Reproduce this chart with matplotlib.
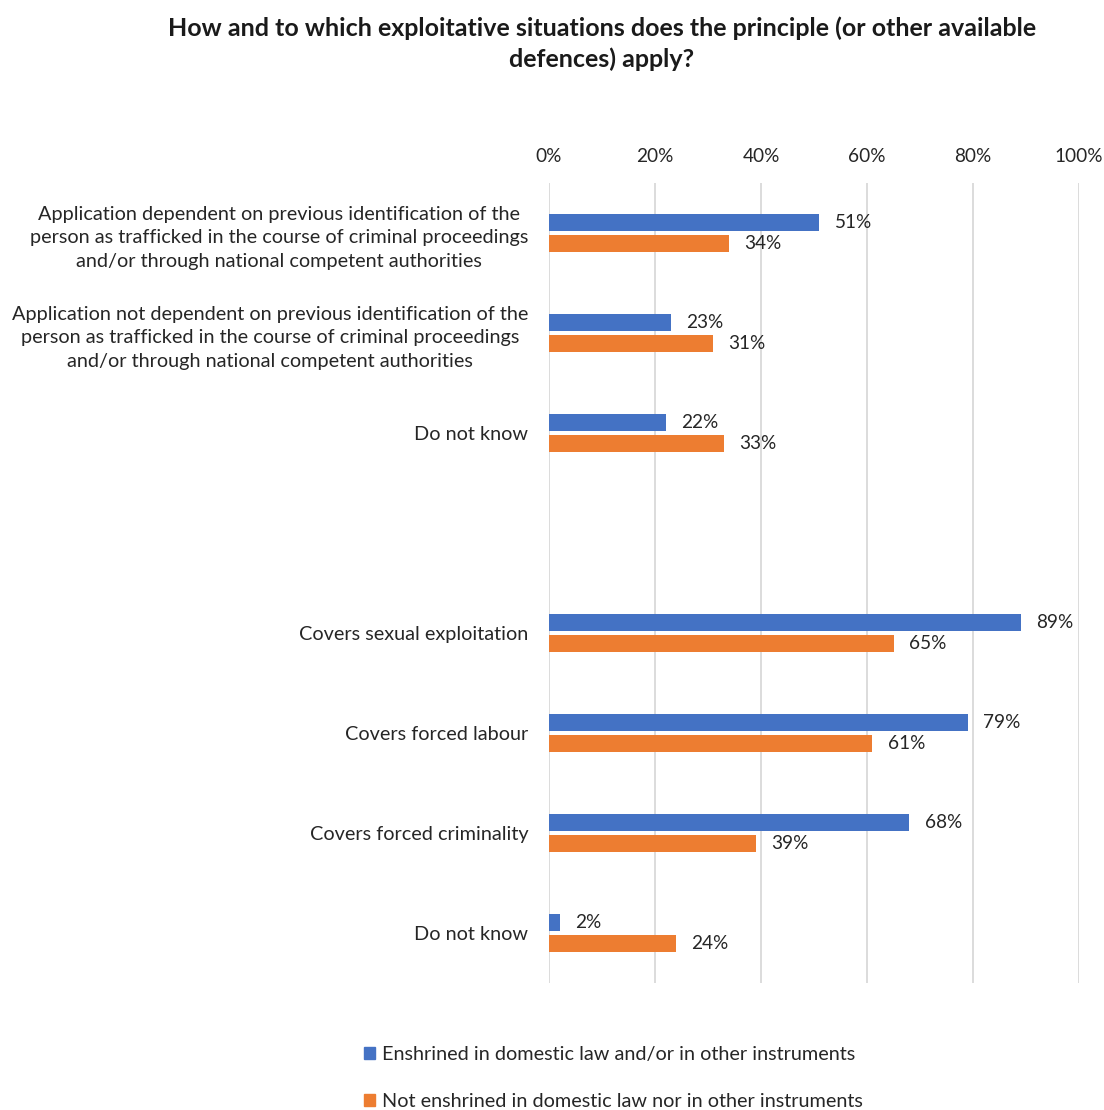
import matplotlib
matplotlib.use("Agg")
import matplotlib.pyplot as plt
from matplotlib.patches import Patch
import numpy as np

plt.rcParams['font.family'] = ['Lato', 'DejaVu Sans']

title = "How and to which exploitative situations does the principle (or other available\ndefences) apply?"

categories = [
    "Application dependent on previous identification of the\nperson as trafficked in the course of criminal proceedings\nand/or through national competent authorities",
    "Application not dependent on previous identification of the\nperson as trafficked in the course of criminal proceedings\nand/or through national competent authorities",
    "Do not know",
    "",
    "Covers sexual exploitation",
    "Covers forced labour",
    "Covers forced criminality",
    "Do not know",
]

enshrined = [51, 23, 22, None, 89, 79, 68, 2]
not_enshrined = [34, 31, 33, None, 65, 61, 39, 24]

series_names = [
    "Enshrined in domestic law and/or in other instruments",
    "Not enshrined in domestic law nor in other instruments",
]
colors = ["#4472C4", "#ED7D31"]

x_ticks = [0, 20, 40, 60, 80, 100]
x_tick_labels = ["0%", "20%", "40%", "60%", "80%", "100%"]

W, H = 1104, 1110
fig = plt.figure(figsize=(W / 100, H / 100), dpi=100)
ax = fig.add_axes([549 / W, 1 - 983 / H, (1079 - 549) / W, (983 - 183) / H])

pos = np.arange(len(categories))
offset = 0.105
bar_h = 0.165
text_col = "#262626"

for vals, col, sign in [(enshrined, colors[0], -1), (not_enshrined, colors[1], 1)]:
    for p, v in zip(pos, vals):
        if v is None:
            continue
        ax.barh(p + sign * offset, v, height=bar_h, color=col, zorder=3)
        ax.annotate(f"{v}%", xy=(v, p + sign * offset), xytext=(11, 0),
                    textcoords="offset points", va="center", ha="left",
                    fontsize=13.7, color=text_col)

ax.set_xlim(0, 100)
ax.set_ylim(len(categories) - 0.5, -0.5)
ax.set_xticks(x_ticks)
ax.set_xticklabels(x_tick_labels, fontsize=13.7, color=text_col)
ax.xaxis.tick_top()
ax.tick_params(axis="x", length=0, pad=13)
ax.set_yticks(pos)
ax.set_yticklabels(categories, fontsize=14.3, color=text_col, multialignment="center",
                   linespacing=1.47)
ax.tick_params(axis="y", length=0, pad=15)
ax.grid(axis="x", color="#D9D9D9", linewidth=1.3, zorder=0)
for s in ax.spines.values():
    s.set_visible(False)

fig.text(602 / W, 1 - 44 / H, title, ha="center", va="center", fontsize=18,
         fontweight="bold", color="#1a1a1a", linespacing=1.38)

handles = [Patch(color=c) for c in colors]
fig.legend(handles, series_names, loc="upper left",
           bbox_to_anchor=(364 / W, 1 - 1046 / H), frameon=False, fontsize=14.3,
           handlelength=0.55, handleheight=0.55, handletextpad=0.35,
           labelspacing=1.5, borderaxespad=0, borderpad=0, labelcolor=text_col)

fig.savefig("out.png", dpi=100)
